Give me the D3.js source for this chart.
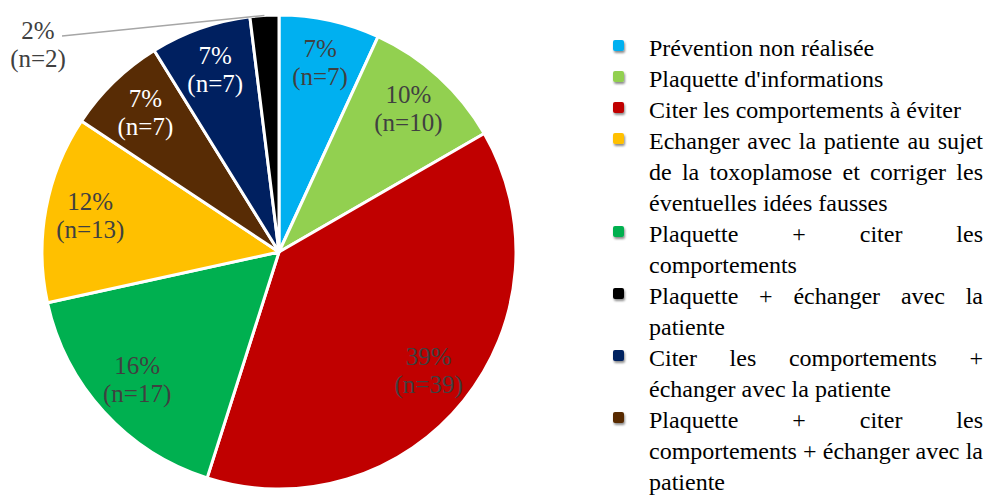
<!DOCTYPE html>
<html><head><meta charset="utf-8">
<script src="https://cdn.jsdelivr.net/npm/d3@7"></script>
<style>body{margin:0;background:#fff}</style>
</head><body>
<script>
// slices in pie order (clockwise from 12 o'clock)
const categories=["Prévention non réalisée","Plaquette d'informations","Citer les comportements à éviter","Plaquette + citer les comportements","Echanger avec la patiente au sujet de la toxoplamose et corriger les éventuelles idées fausses","Plaquette + citer les comportements + échanger avec la patiente","Citer les comportements + échanger avec la patiente","Plaquette + échanger avec la patiente"]
const counts=[7,10,39,17,13,7,7,2]
const percents=[7,10,39,16,12,7,7,2]
const colors=['#00b0f0','#92d050','#c00000','#00b050','#ffc000','#582c05','#002060','#000000']
const legendOrder=[0,1,2,4,3,7,6,5]

const width=986, height=500
const cx=279, cy=252, radius=237

const svg=d3.select('body').append('svg').attr('width',width).attr('height',height)

const defs=svg.append('defs')
const f=defs.append('filter').attr('id','sh').attr('x','-50%').attr('y','-50%').attr('width','200%').attr('height','250%')
f.append('feDropShadow').attr('dx',1).attr('dy',2).attr('stdDeviation',1.3).attr('flood-color','#000').attr('flood-opacity',0.45)

const data=counts.map((c,i)=>({i:i,count:c,pct:percents[i]}))
const pie=d3.pie().sort(null).value(d=>d.count)
const arcs=pie(data)
const arc=d3.arc().innerRadius(0).outerRadius(radius)
const labelArc=d3.arc().innerRadius(192).outerRadius(192)
const edgeArc=d3.arc().innerRadius(radius).outerRadius(radius)

const g=svg.append('g').attr('transform',`translate(${cx},${cy})`)
g.selectAll('path').data(arcs).enter().append('path')
  .attr('d',arc)
  .attr('fill',d=>colors[d.data.i])
  .attr('stroke','#fff')
  .attr('stroke-width',3)
  .attr('stroke-linejoin','round')

const labelFont='Liberation Serif'
const darkSlices=[5,6]
const inside=arcs.filter(d=>d.data.count>=3)
const lab=g.selectAll('text.lab').data(inside).enter().append('text')
  .attr('class','lab')
  .attr('transform',d=>`translate(${labelArc.centroid(d)})`)
  .attr('text-anchor','middle')
  .style('font-family',labelFont)
  .style('font-size','25px')
  .style('fill',d=>darkSlices.includes(d.data.i)?'#fff':'#404040')
lab.append('tspan').attr('x',0).attr('y',-7).text(d=>d.data.pct+'%')
lab.append('tspan').attr('x',0).attr('y',21).text(d=>'(n='+d.data.count+')')

// small slice: outside label with leader line
const outside=arcs.filter(d=>d.data.count<3)
outside.forEach(d=>{
  const lx=-241, ly=-208
  const p=edgeArc.centroid(d)
  g.append('line').attr('x1',lx+24).attr('y1',ly-8).attr('x2',p[0]).attr('y2',p[1])
    .attr('stroke','#a6a6a6').attr('stroke-width',1.5)
  const t=g.append('text').attr('text-anchor','middle')
    .style('font-family',labelFont).style('font-size','25px').style('fill','#404040')
  t.append('tspan').attr('x',lx).attr('y',ly-5).text(d.data.pct+'%')
  t.append('tspan').attr('x',lx).attr('y',ly+23).text('(n='+d.data.count+')')
})

// legend with justified wrapped text
const lgX=649, lgW=334, lh=31
let lineY=56
const legend=svg.append('g').style('font-family','Liberation Serif').style('font-size','24px').style('fill','#000')
const measure=legend.append('text').attr('x',-1000).attr('y',-1000)
function w(s){measure.text(s);return measure.node().getComputedTextLength()}
const spaceW=w('a a')-w('aa')

legendOrder.forEach(i=>{
  legend.append('rect').attr('x',613).attr('y',lineY-16).attr('width',11).attr('height',11)
    .attr('rx',2).attr('fill',colors[i]).attr('filter','url(#sh)')
  const words=categories[i].split(' ')
  const lines=[]; let cur=[]
  words.forEach(word=>{
    const test=cur.concat([word]).join(' ')
    if(cur.length && w(test)>lgW){lines.push(cur);cur=[word]} else cur.push(word)
  })
  lines.push(cur)
  lines.forEach((ln,li)=>{
    const last=li===lines.length-1
    const ws=ln.map(x=>w(x))
    const total=d3.sum(ws)
    const gap=(!last && ln.length>1)?(lgW-total)/(ln.length-1):spaceW
    let x=lgX
    ln.forEach((word,k)=>{
      legend.append('text').attr('x',x).attr('y',lineY).text(word)
      x+=ws[k]+gap
    })
    lineY+=lh
  })
})
measure.remove()
</script>
</body></html>
